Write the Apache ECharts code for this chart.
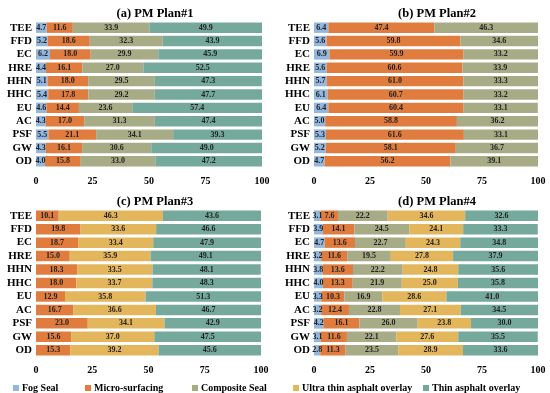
<!DOCTYPE html>
<html><head><meta charset="utf-8">
<script src="https://cdn.jsdelivr.net/npm/echarts@6/dist/echarts.min.js"></script>
<style>html,body{margin:0;padding:0;background:#fff}#c{width:550px;height:393px}</style>
</head><body><div id="c"></div>
<script>
const categories = ['TEE','FFD','EC','HRE','HHN','HHC','EU','AC','PSF','GW','OD'];
const xTicks = [0,25,50,75,100];
const titles = ['(a) PM Plan#1','(b) PM Plan#2','(c) PM Plan#3','(d) PM Plan#4'];
const seriesNames = ['Fog Seal','Micro-surfacing','Composite Seal','Ultra thin asphalt overlay','Thin asphalt overlay'];

const p1Fog   = [4.7,5.2,6.2,4.4,5.1,5.4,4.6,4.3,5.5,4.3,4.0];
const p1Micro = [11.6,18.6,18.0,16.1,18.0,17.8,14.4,17.0,21.1,16.1,15.8];
const p1Comp  = [33.9,32.3,29.9,27.0,29.5,29.2,23.6,31.3,34.1,30.6,33.0];
const p1Thin  = [49.9,43.9,45.9,52.5,47.3,47.7,57.4,47.4,39.3,49.0,47.2];

const p2Fog   = [6.4,5.6,6.9,5.6,5.7,6.1,6.4,5.0,5.3,5.2,4.7];
const p2Micro = [47.4,59.8,59.9,60.6,61.0,60.7,60.4,58.8,61.6,58.1,56.2];
const p2Comp  = [46.3,34.6,33.2,33.9,33.3,33.2,33.1,36.2,33.1,36.7,39.1];

const p3Micro = [10.1,19.8,18.7,15.0,18.3,18.0,12.9,16.7,23.0,15.6,15.3];
const p3Ultra = [46.3,33.6,33.4,35.9,33.5,33.7,35.8,36.6,34.1,37.0,39.2];
const p3Thin  = [43.6,46.6,47.9,49.1,48.1,48.3,51.3,46.7,42.9,47.5,45.6];

const p4Fog   = [3.1,3.9,4.7,3.2,3.8,4.0,3.3,3.2,4.2,3.1,2.8];
const p4Micro = [7.6,14.1,13.6,11.6,13.6,13.3,10.3,12.4,16.1,11.6,11.3];
const p4Comp  = [22.2,24.5,22.7,19.5,22.2,21.9,16.9,22.8,26.0,22.1,23.5];
const p4Ultra = [34.6,24.1,24.3,27.8,24.8,25.0,28.6,27.1,23.8,27.6,28.9];
const p4Thin  = [32.6,33.3,34.8,37.9,35.6,35.8,41.0,34.5,30.0,35.5,33.6];

const colors = {
  'Fog Seal':'#93B7DE',
  'Micro-surfacing':'#E07D3E',
  'Composite Seal':'#A8AC86',
  'Ultra thin asphalt overlay':'#E3B65C',
  'Thin asphalt overlay':'#74A99C'
};
const FF = '"Liberation Serif","Times New Roman",serif';

const panels = [
  {grid:{left:36,top:21,width:226,height:147}, data:[['Fog Seal',p1Fog],['Micro-surfacing',p1Micro],['Composite Seal',p1Comp],['Thin asphalt overlay',p1Thin]]},
  {grid:{left:314,top:21,width:224,height:147}, data:[['Fog Seal',p2Fog],['Micro-surfacing',p2Micro],['Composite Seal',p2Comp]]},
  {grid:{left:36,top:209,width:225,height:148}, data:[['Micro-surfacing',p3Micro],['Ultra thin asphalt overlay',p3Ultra],['Thin asphalt overlay',p3Thin]]},
  {grid:{left:314,top:209,width:224,height:148}, data:[['Fog Seal',p4Fog],['Micro-surfacing',p4Micro],['Composite Seal',p4Comp],['Ultra thin asphalt overlay',p4Ultra],['Thin asphalt overlay',p4Thin]]}
];
const titlePos = [[150,2],[432,2],[150,190],[432,190]];

const grid=[], xAxis=[], yAxis=[], series=[], title=[];
panels.forEach((p,i)=>{
  grid.push(p.grid);
  title.push({text:titles[i], left:titlePos[i][0], top:titlePos[i][1], textAlign:'center',
    textStyle:{fontFamily:FF,fontWeight:'bold',fontSize:12.5,color:'#000'}});
  xAxis.push({type:'value',gridIndex:i,min:xTicks[0],max:xTicks[xTicks.length-1],interval:25,
    axisLine:{show:false},axisTick:{show:false},splitLine:{show:false},
    axisLabel:{fontFamily:FF,fontWeight:'bold',fontSize:10,color:'#000',margin:8}});
  yAxis.push({type:'category',gridIndex:i,data:categories,inverse:true,
    axisLine:{show:false},axisTick:{show:false},
    axisLabel:{interval:0,fontFamily:FF,fontWeight:'bold',fontSize:11,color:'#000',margin:4}});
  p.data.forEach(([name,vals])=>{
    series.push({type:'bar',name,stack:'s'+i,xAxisIndex:i,yAxisIndex:i,data:vals,
      barWidth:'78%',itemStyle:{color:colors[name]},
      label:{show:true,position:'inside',fontFamily:FF,fontWeight:'bold',fontSize:8,color:'#222',
        formatter:(d)=>d.value.toFixed(1)}});
  });
});

const legendLeft = [8,80,187,288,418];
const legend = seriesNames.map((n,k)=>({data:[n],left:legendLeft[k],top:378,itemWidth:6,itemHeight:6,itemGap:3,
  icon:'rect',textStyle:{fontFamily:FF,fontWeight:'bold',fontSize:10,color:'#000',padding:[0,0,0,-2]}}));

const chart = echarts.init(document.getElementById('c'),null,{renderer:'canvas'});
chart.setOption({animation:false,backgroundColor:'#fff',title,grid,xAxis,yAxis,series,legend});
</script></body></html>
